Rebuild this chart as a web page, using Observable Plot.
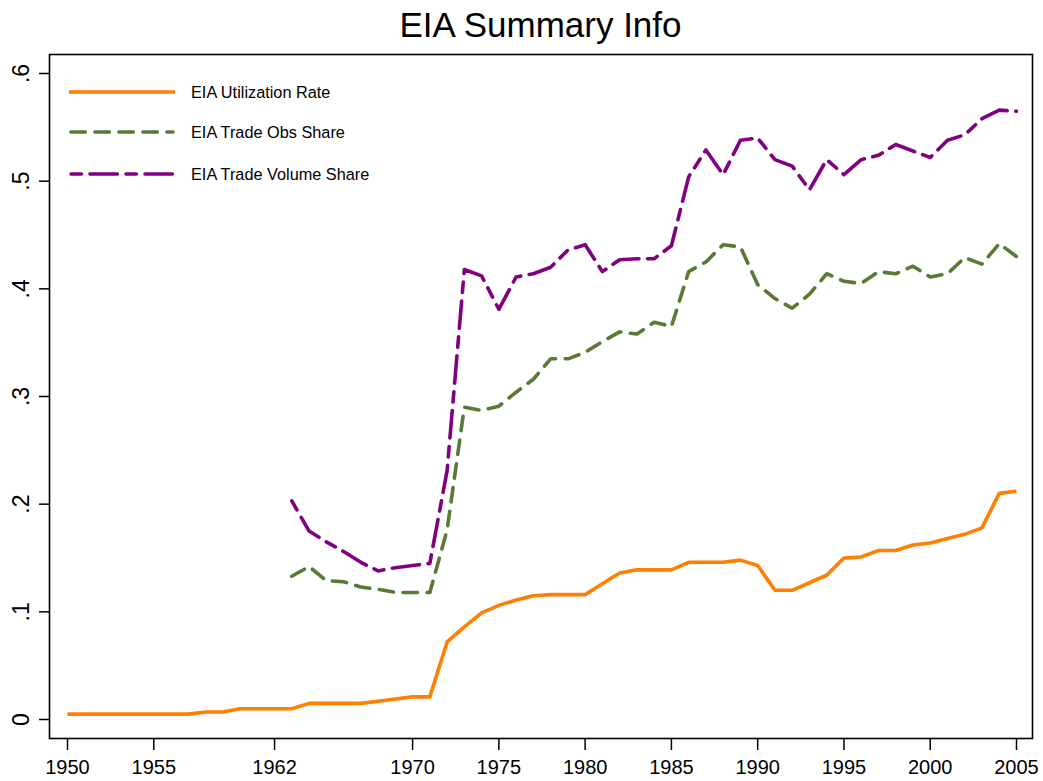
<!DOCTYPE html>
<html>
<head>
<meta charset="utf-8">
<script src="https://cdn.jsdelivr.net/npm/d3@7"></script>
<script src="https://cdn.jsdelivr.net/npm/@observablehq/plot@0.6"></script>
<style>
  body { margin: 0; background: #fff; }
  #wrap { position: relative; width: 1043px; height: 781px; background: #fff; font-family: "Liberation Sans", Arial, sans-serif; }
  #title { position: absolute; left: 0; top: 0; width: 1081px; height: 45px; padding-top: 7px; box-sizing: border-box; text-align: center; font-size: 35px; line-height: 35px; color: #000; }
  #chart { position: absolute; left: 0; top: 45px; }
  #legend { position: absolute; left: 69px; top: 0; }
  .item { position: absolute; left: 0; height: 20px; width: 320px; }
  .item svg { position: absolute; left: 0; top: 0; }
  .item span { position: absolute; left: 122px; top: 0; line-height: 20px; font-size: 16.3px; color: #000; white-space: nowrap; }
</style>
</head>
<body>
<div id="wrap">
  <div id="title">EIA Summary Info</div>
  <div id="chart"></div>
  <div id="legend"></div>
</div>
<script>
// ---- data ----
const utilYears = [1950,1951,1952,1953,1954,1955,1956,1957,1958,1959,1960,1961,1962,1963,1964,1965,1966,1967,1968,1969,1970,1971,1972,1973,1974,1975,1976,1977,1978,1979,1980,1981,1982,1983,1984,1985,1986,1987,1988,1989,1990,1991,1992,1993,1994,1995,1996,1997,1998,1999,2000,2001,2002,2003,2004,2005];
const utilizationRate = [.005,.005,.005,.005,.005,.005,.005,.005,.007,.007,.010,.010,.010,.010,.015,.015,.015,.015,.017,.019,.021,.021,.072,.086,.099,.106,.111,.115,.116,.116,.116,.126,.136,.139,.139,.139,.146,.146,.146,.148,.143,.120,.120,.127,.134,.150,.151,.157,.157,.162,.164,.168,.172,.178,.210,.212];

const tradeYears = [1963,1964,1965,1966,1967,1968,1969,1970,1971,1972,1973,1974,1975,1976,1977,1978,1979,1980,1981,1982,1983,1984,1985,1986,1987,1988,1989,1990,1991,1992,1993,1994,1995,1996,1997,1998,1999,2000,2001,2002,2003,2004,2005];
const tradeObsShare = [.133,.142,.129,.128,.123,.121,.118,.118,.118,.176,.290,.287,.291,.304,.316,.335,.335,.341,.351,.360,.358,.369,.365,.416,.425,.441,.439,.404,.391,.382,.395,.414,.407,.405,.416,.414,.421,.411,.414,.429,.423,.442,.430];
const tradeVolumeShare = [.203,.175,.165,.156,.146,.138,.141,.143,.145,.231,.418,.412,.381,.411,.414,.420,.436,.441,.416,.427,.428,.428,.440,.504,.529,.506,.538,.540,.520,.514,.492,.520,.506,.520,.524,.534,.528,.522,.538,.543,.558,.566,.565];

const seriesNames = ["EIA Utilization Rate", "EIA Trade Obs Share", "EIA Trade Volume Share"];
const seriesColors = ["#ff7f00", "#587a35", "#800080"];
const seriesDash = [null, "14.4,9.6", "10.4,8.6,27.4,8.6"];

const xTicks = [1950,1955,1962,1970,1975,1980,1985,1990,1995,2000,2005];
const yTicks = [0,.1,.2,.3,.4,.5,.6];
const yTickLabels = ["0",".1",".2",".3",".4",".5",".6"];

// ---- tables ----
const util = utilYears.map((yr, i) => ({year: yr, value: utilizationRate[i]}));
const obs = tradeYears.map((yr, i) => ({year: yr, value: tradeObsShare[i]}));
const vol = tradeYears.map((yr, i) => ({year: yr, value: tradeVolumeShare[i]}));
const tables = [util, obs, vol];

const lineWidth = 3.6;

const chart = Plot.plot({
  width: 1043,
  height: 736,
  marginLeft: 49,
  marginRight: 11,
  marginTop: 9,
  marginBottom: 43,
  x: {domain: [1950, 2005], insetLeft: 18, insetRight: 16},
  y: {domain: [0, 0.6], insetTop: 19, insetBottom: 19},
  style: {fontFamily: "'Liberation Sans', Arial, sans-serif", fontSize: "20px", color: "#000", background: "#fff", overflow: "visible"},
  marks: [
    Plot.axisX({ticks: xTicks, tickFormat: d => String(d), tickSize: 12, tickPadding: 9, label: null, strokeWidth: 1.5, fontSize: 20}),
    Plot.axisY({ticks: yTicks, tickFormat: d => yTickLabels[yTicks.indexOf(d)], tickSize: 10, tickPadding: 11, tickRotate: -90, label: null, strokeWidth: 1.5, fontSize: 23}),
    ...tables.map((t, i) => Plot.line(t, {
      x: "year", y: "value",
      stroke: seriesColors[i], strokeWidth: lineWidth,
      strokeDasharray: seriesDash[i] || undefined,
      strokeLinecap: seriesDash[i] ? "round" : "butt",
      strokeLinejoin: "round"
    })),
    Plot.frame({stroke: "#000", strokeWidth: 1.6})
  ]
});
document.getElementById("chart").appendChild(chart);

// ---- legend (inside frame, top-left) ----
const legendTops = [82, 122, 164];
const legend = document.getElementById("legend");
seriesNames.forEach((name, i) => {
  const item = document.createElement("div");
  item.className = "item";
  item.style.top = legendTops[i] + "px";
  const dash = seriesDash[i] ? `stroke-dasharray="${seriesDash[i]}" stroke-linecap="round"` : `stroke-linecap="butt"`;
  const x0 = seriesDash[i] ? 2 : 0, x1 = seriesDash[i] ? 104 : 106;
  item.innerHTML = `<svg width="110" height="20"><line x1="${x0}" y1="10" x2="${x1}" y2="10" stroke="${seriesColors[i]}" stroke-width="${lineWidth}" ${dash}/></svg><span>${name}</span>`;
  legend.appendChild(item);
});
</script>
</body>
</html>
